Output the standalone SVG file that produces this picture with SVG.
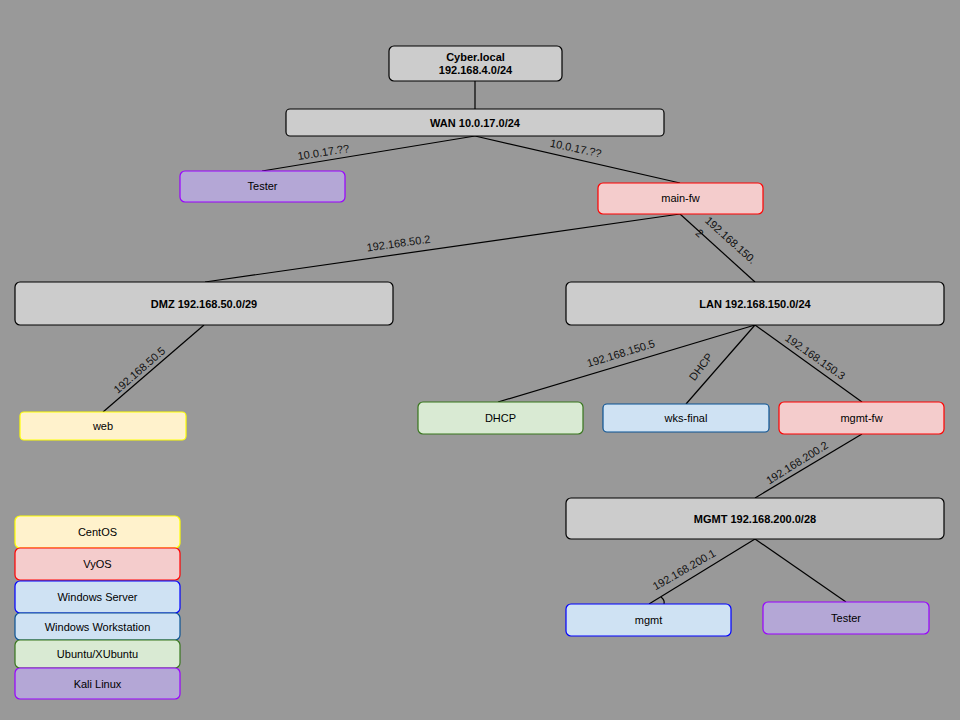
<svg xmlns="http://www.w3.org/2000/svg" width="960" height="720" viewBox="0 0 960 720">
  <style>
    .box { stroke-width: 1.2; }
    .net { fill: #cccccc; stroke: #000000; }
    .centos { fill: #fff2cc; stroke: #ffff00; }
    .vyos { fill: #f4cccc; stroke: #ff0000; }
    .winsrv { fill: #cfe2f3; stroke: #0000ff; }
    .winwks { fill: #cfe2f3; stroke: #0b5394; }
    .ubuntu { fill: #d9ead3; stroke: #38761d; }
    .kali { fill: #b4a7d6; stroke: #9900ff; }
    text { font-family: "Liberation Sans", Arial, sans-serif; font-size: 11px; fill: #000000; text-anchor: middle; }
    .bold { font-weight: bold; }
    .lbl { font-size: 11px; fill: #111111; }
    .link { stroke: #000000; stroke-width: 1.2; fill: none; }
  </style>
  <rect width="960" height="720" fill="#999999"/>

  <g id="connectors">
    <line class="link" x1="475" y1="81" x2="475" y2="109"/>
    <line class="link" x1="475" y1="136" x2="262" y2="171"/>
    <line class="link" x1="475" y1="136" x2="680" y2="183"/>
    <line class="link" x1="680" y1="214" x2="205" y2="282"/>
    <line class="link" x1="680" y1="214" x2="755" y2="282"/>
    <line class="link" x1="204" y1="325" x2="103" y2="412"/>
    <line class="link" x1="755" y1="325" x2="498" y2="402"/>
    <line class="link" x1="755" y1="325" x2="686" y2="404"/>
    <line class="link" x1="755" y1="325" x2="862" y2="402"/>
    <line class="link" x1="862" y1="434" x2="755" y2="498"/>
    <line class="link" x1="755" y1="539" x2="649" y2="604"/>
    <line class="link" x1="755" y1="539" x2="846" y2="602"/>
    <path class="link" d="M661 597 Q665 600 664 604" stroke-width="0.9"/>

    <text class="lbl" transform="translate(324,156) rotate(-9)">10.0.17.??</text>
    <text class="lbl" transform="translate(575,152) rotate(12)">10.0.17.??</text>
    <text class="lbl" transform="translate(399,247) rotate(-8)">192.168.50.2</text>
    <text class="lbl" transform="translate(728,243) rotate(42)">192.168.150.</text>
    <text class="lbl" transform="translate(697,236) rotate(42)">2</text>
    <text class="lbl" transform="translate(142,373) rotate(-41)">192.168.50.5</text>
    <text class="lbl" transform="translate(622,357) rotate(-17)">192.168.150.5</text>
    <text class="lbl" transform="translate(704,369) rotate(-53)">DHCP</text>
    <text class="lbl" transform="translate(813,360) rotate(35)">192.168.150.3</text>
    <text class="lbl" transform="translate(799,466) rotate(-32)">192.168.200.2</text>
    <text class="lbl" transform="translate(686,573) rotate(-30)">192.168.200.1</text>
  </g>

  <g id="cyber-local">
    <rect class="box net" x="389" y="46" width="173" height="35" rx="5"/>
    <text class="bold" x="475.5" y="61">Cyber.local</text>
    <text class="bold" x="475.5" y="74">192.168.4.0/24</text>
  </g>
  <g id="wan">
    <rect class="box net" x="286" y="109" width="378" height="27" rx="4"/>
    <text class="bold" x="475" y="126.5">WAN 10.0.17.0/24</text>
  </g>
  <g id="tester-wan">
    <rect class="box kali" x="180" y="171" width="165" height="31" rx="5"/>
    <text x="262.5" y="190">Tester</text>
  </g>
  <g id="main-fw">
    <rect class="box vyos" x="598" y="183" width="165" height="31" rx="5"/>
    <text x="680.5" y="202">main-fw</text>
  </g>
  <g id="dmz">
    <rect class="box net" x="15" y="282" width="378" height="43" rx="5"/>
    <text class="bold" x="204" y="307.5">DMZ 192.168.50.0/29</text>
  </g>
  <g id="lan">
    <rect class="box net" x="566" y="282" width="378" height="43" rx="5"/>
    <text class="bold" x="755" y="307.5">LAN 192.168.150.0/24</text>
  </g>
  <g id="web">
    <rect class="box centos" x="20" y="412" width="166" height="28" rx="4"/>
    <text x="103" y="430">web</text>
  </g>
  <g id="dhcp">
    <rect class="box ubuntu" x="418" y="402" width="165" height="32" rx="5"/>
    <text x="500.5" y="422">DHCP</text>
  </g>
  <g id="wks-final">
    <rect class="box winwks" x="603" y="404" width="166" height="28" rx="4"/>
    <text x="686" y="422">wks-final</text>
  </g>
  <g id="mgmt-fw">
    <rect class="box vyos" x="779" y="402" width="165" height="32" rx="5"/>
    <text x="861.5" y="422">mgmt-fw</text>
  </g>
  <g id="mgmt-net">
    <rect class="box net" x="566" y="498" width="378" height="41" rx="5"/>
    <text class="bold" x="755" y="522.5">MGMT 192.168.200.0/28</text>
  </g>
  <g id="mgmt">
    <rect class="box winsrv" x="566" y="604" width="165" height="32" rx="5"/>
    <text x="648.5" y="624">mgmt</text>
  </g>
  <g id="tester-mgmt">
    <rect class="box kali" x="763" y="602" width="166" height="32" rx="5"/>
    <text x="846" y="622">Tester</text>
  </g>

  <g id="legend">
    <g id="legend-centos">
      <rect class="box centos" x="15" y="516" width="165" height="32" rx="5"/>
      <text x="97.5" y="536">CentOS</text>
    </g>
    <g id="legend-vyos">
      <rect class="box vyos" x="15" y="548" width="165" height="32" rx="5"/>
      <text x="97.5" y="568">VyOS</text>
    </g>
    <g id="legend-winsrv">
      <rect class="box winsrv" x="15" y="581" width="165" height="32" rx="5"/>
      <text x="97.5" y="601">Windows Server</text>
    </g>
    <g id="legend-winwks">
      <rect class="box winwks" x="15" y="613" width="165" height="27" rx="5"/>
      <text x="97.5" y="631">Windows Workstation</text>
    </g>
    <g id="legend-ubuntu">
      <rect class="box ubuntu" x="15" y="640" width="165" height="28" rx="5"/>
      <text x="97.5" y="658">Ubuntu/XUbuntu</text>
    </g>
    <g id="legend-kali">
      <rect class="box kali" x="15" y="668" width="165" height="31" rx="5"/>
      <text x="97.5" y="688">Kali Linux</text>
    </g>
  </g>
</svg>
